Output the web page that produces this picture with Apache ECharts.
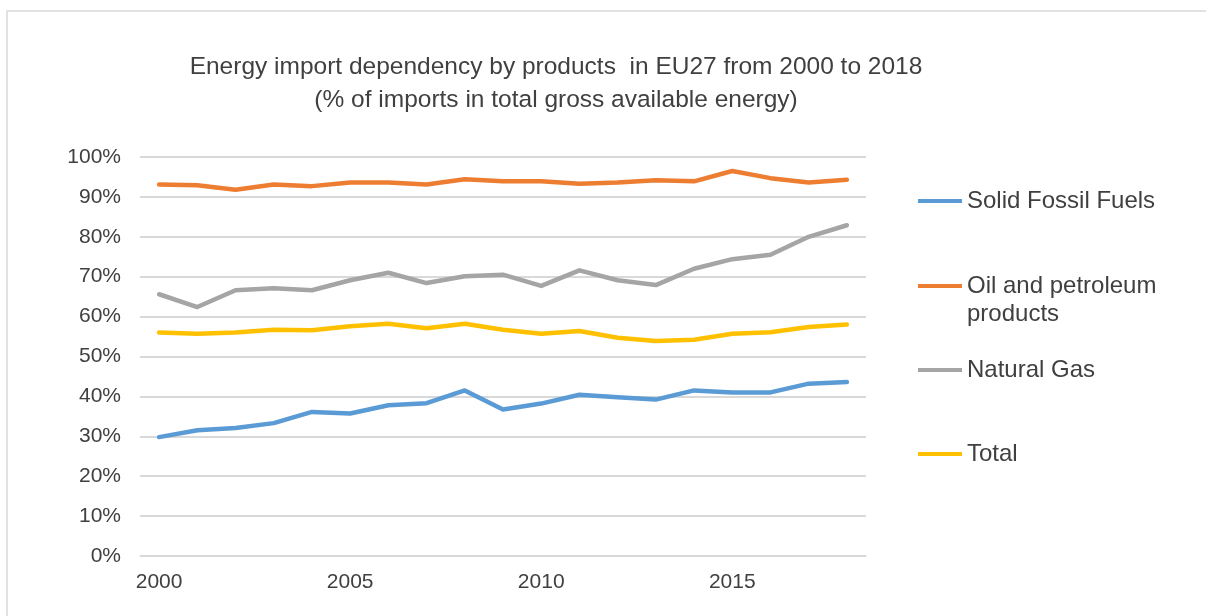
<!DOCTYPE html>
<html>
<head>
<meta charset="utf-8">
<title>Energy import dependency by products in EU27</title>
<script src="https://cdn.jsdelivr.net/npm/echarts@6/dist/echarts.min.js"></script>
<style>
  html, body { margin: 0; padding: 0; background: #ffffff; }
  #chart { width: 1206px; height: 616px; }
</style>
</head>
<body>
<div id="chart"></div>
<script>
// Years on the category axis
const years = ['2000','2001','2002','2003','2004','2005','2006','2007','2008','2009',
               '2010','2011','2012','2013','2014','2015','2016','2017','2018'];

// Import dependency, % of imports in total gross available energy
const solidFossilFuels = [29.8, 31.5, 32.1, 33.3, 36.1, 35.7, 37.8, 38.3, 41.5, 36.7,
                          38.2, 40.4, 39.8, 39.2, 41.5, 41.0, 41.0, 43.2, 43.6];
const oilPetroleum     = [93.1, 92.9, 91.8, 93.1, 92.7, 93.6, 93.6, 93.1, 94.4, 93.9,
                          93.9, 93.3, 93.6, 94.2, 93.9, 96.5, 94.7, 93.6, 94.3];
const naturalGas       = [65.6, 62.4, 66.6, 67.1, 66.6, 69.1, 71.0, 68.4, 70.1, 70.5,
                          67.7, 71.6, 69.1, 67.9, 72.0, 74.4, 75.5, 80.0, 82.9];
const total            = [56.0, 55.7, 56.0, 56.7, 56.6, 57.6, 58.2, 57.1, 58.2, 56.7,
                          55.7, 56.4, 54.7, 53.9, 54.2, 55.7, 56.1, 57.4, 58.0];

// Year labels shown on the x axis
const shownYears = ['2000', '2005', '2010', '2015'];

const seriesNames = ['Solid Fossil Fuels', 'Oil and petroleum', 'Natural Gas', 'Total'];
const seriesColors = ['#5B9BD5', '#ED7D31', '#A5A5A5', '#FFC000'];
const seriesData = [solidFossilFuels, oilPetroleum, naturalGas, total];

const textFont = '"Liberation Sans", Arial, sans-serif';
const legendTops = [199, 284, 368, 452];

const chart = echarts.init(document.getElementById('chart'), null, { renderer: 'canvas' });

const legends = seriesNames.map((name, i) => ({
  data: [name],
  orient: 'vertical',
  left: 918,
  top: legendTops[i] - 10,
  padding: 0,
  itemWidth: 44,
  itemHeight: 4,
  itemGap: 0,
  icon: 'rect',
  selectedMode: false,
  textStyle: { fontFamily: textFont, fontSize: 24, color: '#404040' }
}));

chart.setOption({
  backgroundColor: '#ffffff',
  animation: false,
  title: {
    text: 'Energy import dependency by products  in EU27 from 2000 to 2018\n(% of imports in total gross available energy)',
    left: 551,
    top: 46,
    textAlign: 'center',
    textStyle: {
      fontFamily: textFont,
      fontSize: 24.5,
      fontWeight: 'normal',
      color: '#404040',
      lineHeight: 33
    }
  },
  legend: legends,
  graphic: [
    {
      type: 'rect',
      shape: { x: 7, y: 11, width: 1220, height: 640 },
      style: { fill: 'none', stroke: '#e2e2e2', lineWidth: 2 },
      silent: true
    },
    {
      type: 'text',
      left: 967,
      top: 302,
      style: { text: 'products', font: '24px "Liberation Sans", Arial, sans-serif', fill: '#404040' }
    }
  ],
  grid: { left: 140, top: 157, width: 726, height: 399, containLabel: false },
  xAxis: {
    type: 'category',
    data: years,
    boundaryGap: true,
    axisLine: { show: true, lineStyle: { color: '#d9d9d9', width: 1 } },
    axisTick: { show: false },
    axisLabel: {
      interval: 0,
      margin: 16,
      fontFamily: textFont,
      fontSize: 21,
      color: '#404040',
      formatter: v => (shownYears.includes(v) ? v : '')
    },
    splitLine: { show: false }
  },
  yAxis: {
    type: 'value',
    min: 0,
    max: 100,
    interval: 10,
    axisLine: { show: false },
    axisTick: { show: false },
    axisLabel: {
      margin: 19,
      fontFamily: textFont,
      fontSize: 21,
      color: '#404040',
      formatter: v => v + '%'
    },
    splitLine: { lineStyle: { color: '#d9d9d9', width: 2 } }
  },
  series: seriesNames.map((name, i) => ({
    name: name,
    type: 'line',
    data: seriesData[i],
    symbol: 'none',
    color: seriesColors[i],
    lineStyle: { width: 4.5, color: seriesColors[i], cap: 'round', join: 'round' },
    z: 3
  }))
});
</script>
</body>
</html>
